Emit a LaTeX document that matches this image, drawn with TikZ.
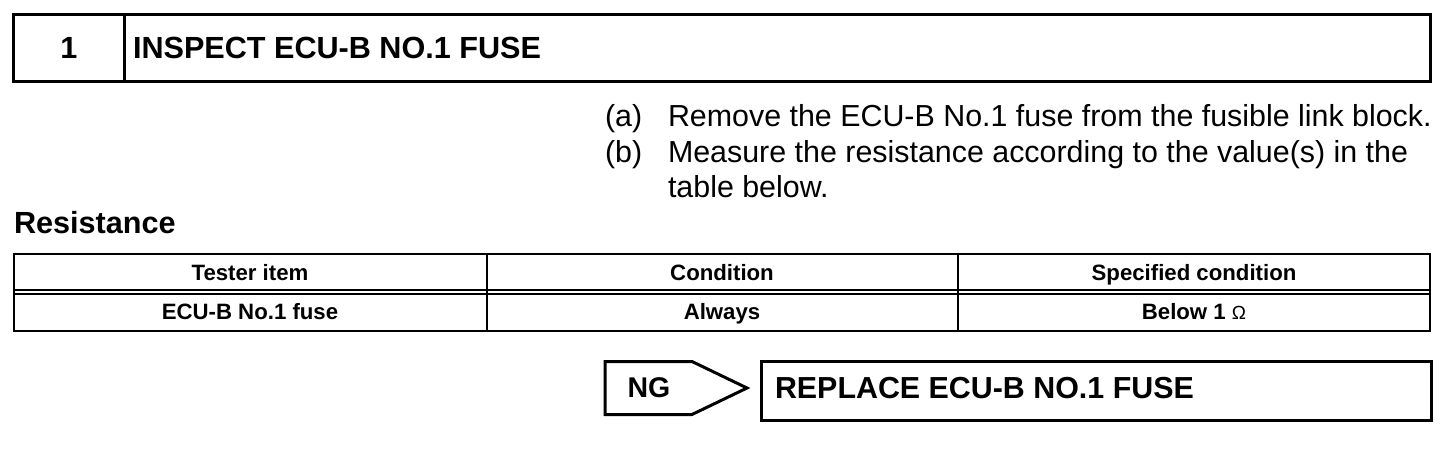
\documentclass[tikz,border=0pt]{standalone}
\usepackage{fontspec}
\setmainfont{Liberation Sans}
\begin{document}
\begin{tikzpicture}[x=1pt,y=-1pt,
  frame/.style={draw, line width=3pt, inner sep=0pt, outer sep=0pt, rectangle, anchor=north west},
  txt/.style={inner sep=0pt, outer sep=0pt},
  bigbold/.style={txt, font=\fontsize{30.6}{36}\selectfont\bfseries},
  body/.style={txt, font=\fontsize{30.4}{35.5}\selectfont},
  cell/.style={txt, anchor=base, font=\fontsize{22.2}{26}\selectfont\bfseries},
  rule/.style={line width=2pt},
  thick3/.style={line width=3pt, line join=miter}]
\useasboundingbox (0,0) rectangle (1456,474);
% title bar
\node[frame, minimum width=111pt, minimum height=67pt] (numcell) at (13.5,14.5) {};
\node[frame, minimum width=1306pt, minimum height=67pt] (titlecell) at (124.5,14.5) {};
\node[bigbold, anchor=base] (num) at (69,58) {1};
\node[bigbold, anchor=base west] (title) at (133,58) {INSPECT ECU-B NO.1 FUSE};
% instructions
\node[body, anchor=base west] (la) at (605,126) {(a)};
\node[body, anchor=base west] (ta) at (668,126) {Remove the ECU-B No.1 fuse from the fusible link block.};
\node[body, anchor=base west] (lb) at (605,162) {(b)};
\node[body, anchor=base west] (tb) at (668,162) {Measure the resistance according to the value(s) in the};
\node[body, anchor=base west] (tc) at (668,197) {table below.};
% heading
\node[bigbold, anchor=base west] (res) at (14,233) {Resistance};
% table
\draw[rule] (13.5,253.5) rectangle (1430,331);
\draw[rule] (13.5,290.3) -- (1430,290.3);
\draw[rule] (13.5,293.7) -- (1430,293.7);
\draw[rule] (486.5,253.5) -- (486.5,331);
\draw[rule] (957.5,253.5) -- (957.5,331);
\node[cell] (h1) at (250,280) {Tester item};
\node[cell] (h2) at (722,280) {Condition};
\node[cell] (h3) at (1194,280) {Specified condition};
\node[cell] (d1) at (250,319) {ECU-B No.1 fuse};
\node[cell] (d2) at (722,319) {Always};
\node[cell] (d3) at (1194,319) {Below 1 {\mdseries\fontsize{19}{24}\selectfont Ω}};
% NG arrow
\draw[thick3] (605,361.5) -- (692,361.5) -- (747,388) -- (692,414.5) -- (605,414.5) -- cycle;
\node[txt, anchor=base, font=\fontsize{28.5}{34}\selectfont\bfseries] (ng) at (649,397.5) {NG};
% replace box
\node[frame, minimum width=669.5pt, minimum height=58.5pt] (repbox) at (761.5,361.5) {};
\node[bigbold, anchor=base west, font=\fontsize{30.4}{36}\selectfont\bfseries] (rep) at (775,398.5) {REPLACE ECU-B NO.1 FUSE};
\end{tikzpicture}
\end{document}
